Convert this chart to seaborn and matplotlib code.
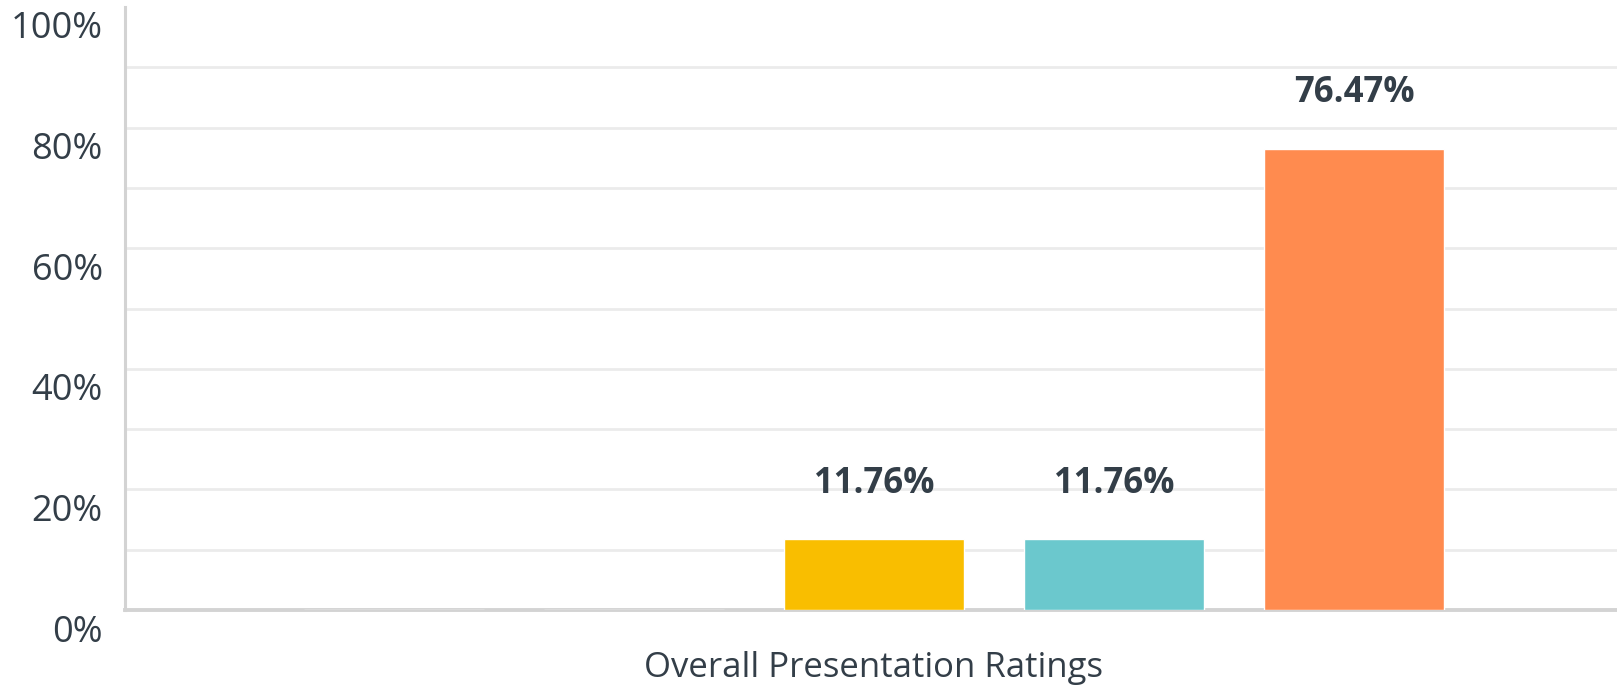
import matplotlib
matplotlib.use("Agg")
import matplotlib.pyplot as plt
import matplotlib.transforms as mtransforms
from matplotlib.ticker import MultipleLocator
import pandas as pd
import seaborn as sns


CATEGORY = "Overall Presentation Ratings"
RATINGS = ["1", "2", "3", "4", "5"]
PERCENTS = [0.0, 0.0, 11.76, 11.76, 76.47]
COLORS = ["#00BF6F", "#507CB6", "#F9BE00", "#6BC8CD", "#FF8B4F"]
Y_TICKS = [0, 20, 40, 60, 80, 100]

TEXT_COLOR = "#333E48"
FONT = "Open Sans"


def main():
    df = pd.DataFrame({
        "question": [CATEGORY] * len(RATINGS),
        "rating": RATINGS,
        "percent": PERCENTS,
    })

    sns.set_style("white")
    plt.rcParams["font.family"] = [FONT, "DejaVu Sans"]

    fig = plt.figure(figsize=(16.17, 6.91), dpi=100)
    ax = fig.add_axes([125 / 1617, 1 - 610 / 691, 1 - 125 / 1617, 603 / 691])

    sns.barplot(
        data=df,
        x="question",
        y="percent",
        hue="rating",
        palette=COLORS,
        width=0.8,
        gap=0.25,
        saturation=1,
        legend=False,
        ax=ax,
        zorder=3,
    )

    ax.set_ylim(0, 100)
    ax.set_xlim(-0.4993, 0.4953)

    ax.set_yticks(Y_TICKS)
    ax.set_yticklabels([f"{v}%" for v in Y_TICKS])
    ax.yaxis.set_minor_locator(MultipleLocator(10))
    ax.grid(axis="y", which="both", color="#EBEBEB", linewidth=2, zorder=0)
    ax.set_axisbelow(True)
    ax.tick_params(axis="y", which="both", length=0, pad=16,
                   labelsize=26, labelcolor=TEXT_COLOR)
    # no gridline on the 100% level
    ax.yaxis.get_major_ticks()[-1].gridline.set_visible(False)
    shift = mtransforms.ScaledTranslation(0, -18 / 100, fig.dpi_scale_trans)
    for lbl in ax.get_yticklabels():
        lbl.set_transform(lbl.get_transform() + shift)

    ax.set_xticks([])
    ax.set_xlabel("")
    ax.set_ylabel("")
    fig.text(873 / 1617, 1 - 668 / 691, CATEGORY, ha="center", va="center",
             fontsize=25, color=TEXT_COLOR)

    for side in ["top", "right"]:
        ax.spines[side].set_visible(False)
    ax.spines["left"].set_color("#D3D3D3")
    ax.spines["left"].set_linewidth(2.2)
    ax.spines["bottom"].set_color("#D3D3D3")
    ax.spines["bottom"].set_linewidth(2.8)

    for container, value in zip(ax.containers, PERCENTS):
        if value <= 0:
            continue
        for bar in container:
            ax.annotate(
                f"{value:.2f}%",
                xy=(bar.get_x() + bar.get_width() / 2, bar.get_height()),
                xytext=(0, 40),
                textcoords="offset points",
                ha="center",
                va="center",
                fontsize=25,
                fontweight="bold",
                color=TEXT_COLOR,
            )

    fig.savefig("out.png", dpi=100)
    plt.close(fig)


if __name__ == "__main__":
    main()
